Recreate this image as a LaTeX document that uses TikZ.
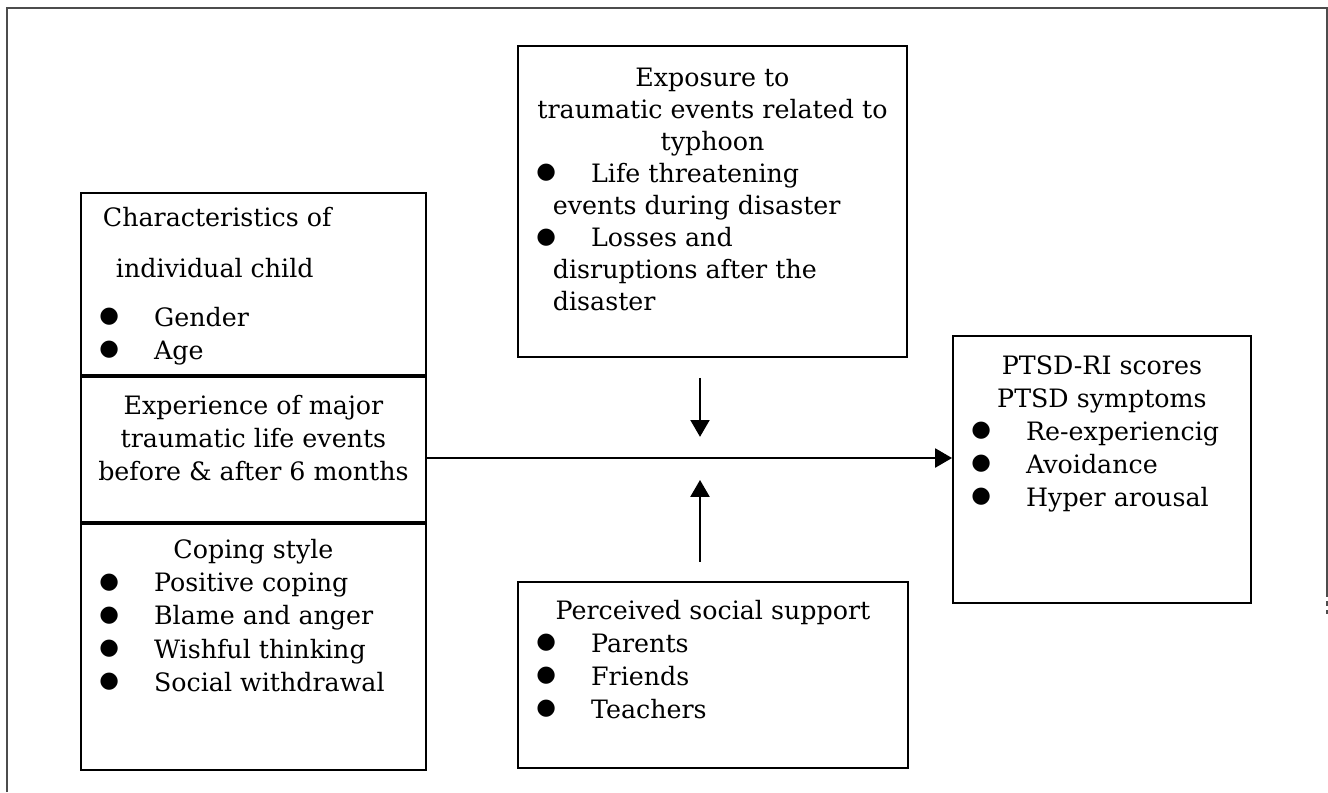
\documentclass[tikz,border=0pt]{standalone}
\usepackage{fontspec}
\setmainfont{DejaVu Serif}
\newfontfamily\dotfont{DejaVu Sans}
\usetikzlibrary{positioning,arrows.meta}

% bullet line and its continuation
\newcommand{\bul}[1]{\par\noindent\hspace*{0.46cm}\makebox[1.37cm][l]{\raisebox{0.09cm}{\dotfont\fontsize{16}{16}\selectfont ●}}#1}
\newcommand{\cont}[1]{\par\noindent\hspace*{0.875cm}#1}

\begin{document}
\begin{tikzpicture}
[x=0.025cm,y=-0.025cm,
 box/.style={draw,line width=1.3pt,inner sep=0pt,anchor=north west},
 arr/.style={line width=0.9pt,-{Triangle[length=0.42cm,width=0.48cm]}},
 frame/.style={line width=0.8pt,black!70}]
\fontsize{18}{23.5}\selectfont
\useasboundingbox (0,0) rectangle (1328,792);
\draw[frame] (7,792) -- (7,8) -- (1327,8) -- (1327,593);
\draw[frame,dashed] (1327,593) -- (1327,615);

% left column
\node[box,minimum width=8.625cm,minimum height=4.55cm] (chars) at (80,192)
 {\parbox[c][4.55cm][t]{8.625cm}{\vspace*{0.35cm}
  \noindent\hspace*{0.55cm}Characteristics of\\[0.45cm]
  \hspace*{0.875cm}individual child\vspace{0.4cm}
  \bul{Gender}
  \bul{Age}}};
\node[box,minimum width=8.625cm,minimum height=3.625cm,below=0pt of chars] (exper)
 {\parbox[c][3.625cm][t]{8.625cm}{\vspace*{0.45cm}\centering
  Experience of major\\traumatic life events\\before \& after 6 months\par}};
\node[box,minimum width=8.625cm,minimum height=6.15cm,below=0pt of exper] (coping)
 {\parbox[c][6.15cm][t]{8.625cm}{\vspace*{0.4cm}
  {\centering Coping style\par}
  \bul{Positive coping}
  \bul{Blame and anger}
  \bul{Wishful thinking}
  \bul{Social withdrawal}}};

% middle column
\node[box,minimum width=9.725cm,minimum height=7.775cm] (expo) at (517,45)
 {\parbox[c][7.775cm][t]{9.725cm}{\fontsize{18}{22.8}\selectfont\vspace*{0.55cm}
  {\centering Exposure to\\traumatic events related to\\typhoon\par}
  \bul{Life threatening}
  \cont{events during disaster}
  \bul{Losses and}
  \cont{disruptions after the}
  \cont{disaster}}};
\node[box,minimum width=9.75cm,minimum height=4.65cm] (support) at (517,581)
 {\parbox[c][4.65cm][t]{9.75cm}{\vspace*{0.45cm}
  {\centering Perceived social support\par}
  \bul{Parents}
  \bul{Friends}
  \bul{Teachers}}};

% outcome
\node[box,minimum width=7.45cm,minimum height=6.675cm] (ptsd) at (952,335)
 {\parbox[c][6.675cm][t]{7.45cm}{\vspace*{0.49cm}
  {\centering PTSD-RI scores\\PTSD symptoms\par}
  \bul{Re-experiencig}
  \bul{Avoidance}
  \bul{Hyper arousal}}};

\coordinate (join) at (700,458);
\draw[arr] (exper.east |- join) -- (ptsd.west |- join);
\draw[arr,shorten <=0.5cm,shorten >=0.53cm] (join |- expo.south) -- (join);
\draw[arr,shorten <=0.48cm,shorten >=0.55cm] (join |- support.north) -- (join);
\end{tikzpicture}
\end{document}
